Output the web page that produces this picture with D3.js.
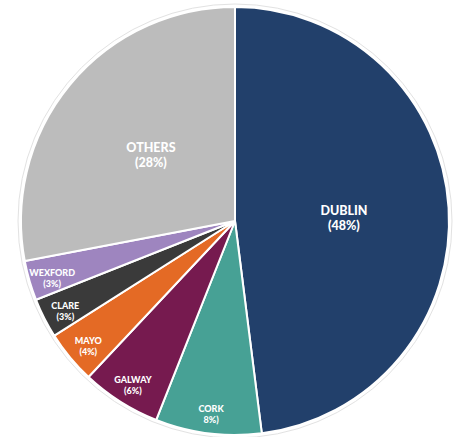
<!DOCTYPE html>
<html><head><meta charset="utf-8">
<script src="https://cdn.jsdelivr.net/npm/d3@7"></script>
<style>html,body{margin:0;padding:0;background:#fff;}</style>
</head><body>
<svg id="c" width="458" height="437"></svg>
<script>
const categories = ["DUBLIN","CORK","GALWAY","MAYO","CLARE","WEXFORD","OTHERS"];
const values = [48, 8, 6, 4, 3, 3, 28];
const pctLabels = ["(48%)","8%)","(6%)","(4%)","(3%)","(3%)","(28%)"];
const colors = ["#22406b","#47a195","#761a4f","#e46a25","#3a3a3a","#9e85bf","#bcbcbc"];

const cx = 235, cy = 221, R = 214;
const svg = d3.select("#c");
const g = svg.append("g").attr("transform", `translate(${cx},${cy})`);

const data = categories.map((c,i)=>({cat:c, v:values[i], pct:pctLabels[i], col:colors[i]}));
const pie = d3.pie().value(d=>d.v).sort(null);
const arcs = pie(data);
const arc = d3.arc().innerRadius(0).outerRadius(R);

g.append("circle").attr("r", R+3).attr("fill","none").attr("stroke","#e2e2e2").attr("stroke-width",1);

g.selectAll("path").data(arcs).enter().append("path")
  .attr("d", arc).attr("fill", d=>d.data.col)
  .attr("stroke","#fff").attr("stroke-width",2).attr("stroke-linejoin","round");

const big = d3.arc().innerRadius(R*0.51).outerRadius(R*0.51);
const small = d3.arc().innerRadius(R*0.89).outerRadius(R*0.89);

const lab = g.selectAll("g.lab").data(arcs).enter().append("g").attr("class","lab")
  .attr("transform", d=>{
    const c = (d.data.v >= 20 ? big : small).centroid(d);
    return `translate(${c[0]},${c[1] + 4})`;
  });
lab.each(function(d){
  const isBig = d.data.v >= 20;
  const fs = isBig ? 12.5 : 9;
  const lh = isBig ? 15 : 11;
  const s = d3.select(this);
  s.append("text").attr("text-anchor","middle").attr("y", -lh/2 + fs*0.35)
    .attr("fill","#fff").attr("font-family","Lato, 'Open Sans', sans-serif").attr("font-weight","900")
    .attr("font-size",fs).text(d.data.cat);
  s.append("text").attr("text-anchor","middle").attr("y", lh/2 + fs*0.35)
    .attr("fill","#fff").attr("font-family","Lato, 'Open Sans', sans-serif").attr("font-weight","900")
    .attr("font-size",fs).text(d.data.pct);
});
</script>
</body></html>
